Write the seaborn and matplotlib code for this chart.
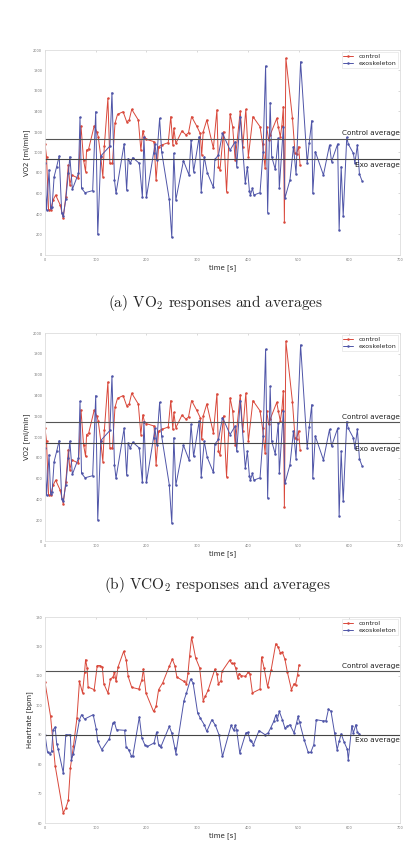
import pandas as pd
import matplotlib.pyplot as plt
import seaborn as sns
import numpy as np

# VO2 panel (the VCO2 panel in the source shows the same traces)
vo2_ctrl_t = [0, 3, 7, 11, 16, 21, 30, 36, 41, 46, 49, 53, 66, 71, 76, 80, 82, 86, 97, 102,
              105, 110, 114, 117, 124, 128, 133, 138, 143, 154, 161, 166, 171, 184, 189, 193, 196, 200, 215, 219,
              224, 230, 243, 248, 252, 254, 258, 270, 278, 283, 289, 299, 306, 309, 312, 319, 332, 339, 342, 345,
              352, 358, 365, 370, 375, 385, 390, 396, 401, 410, 424, 429, 434, 437, 441, 444, 457, 460, 464, 467,
              470, 472, 475, 488, 493, 496, 500, 503]
vo2_ctrl = [1083, 959, 439, 439, 537, 585, 488, 358, 569, 878, 683, 780, 748, 1259, 927, 813, 1024, 1034, 1259, 1203,
            1154, 959, 764, 1063, 1528, 894, 894, 1285, 1372, 1398, 1301, 1317, 1421, 1317, 1024, 1213, 1148, 1128, 1106, 732,
            1057, 1073, 1096, 1350, 1073, 1236, 1089, 1210, 1171, 1193, 1350, 1259, 1187, 976, 1203, 1317, 1041, 1415, 862, 829,
            1203, 618, 1376, 1252, 927, 1405, 1057, 1421, 959, 1350, 1252, 1083, 846, 1252, 1122, 1171, 1333, 1252, 1154, 1259,
            1447, 325, 1919, 1333, 992, 985, 1057, 878]

vo2_exo_t = [0, 3, 8, 11, 14, 18, 23, 28, 33, 36, 41, 46, 49, 54, 66, 69, 72, 79, 94, 100,
             104, 110, 128, 132, 137, 140, 156, 161, 164, 168, 173, 186, 192, 195, 200, 214, 217, 220, 226, 230,
             245, 250, 254, 258, 273, 284, 288, 293, 304, 308, 314, 320, 332, 335, 342, 350, 365, 375, 378, 385,
             395, 399, 403, 405, 409, 412, 424, 430, 435, 439, 444, 447, 454, 460, 462, 470, 473, 483, 490, 495,
             504, 517, 521, 526, 528, 533, 549, 561, 565, 577, 580, 584, 588, 595, 598, 608, 611, 616, 620, 625]
vo2_exo = [894, 439, 829, 455, 472, 764, 862, 966, 407, 380, 543, 797, 959, 641, 797, 1343, 650, 608, 628, 1398,
           202, 966, 1063, 1584, 732, 602, 1083, 634, 940, 894, 950, 894, 563, 1148, 563, 992, 1083, 927, 1333, 1008,
           543, 172, 992, 537, 920, 780, 1122, 813, 1154, 618, 959, 803, 660, 933, 976, 1187, 1024, 1106, 862, 1350,
           699, 862, 628, 585, 650, 585, 608, 1008, 1844, 413, 1486, 959, 836, 1138, 650, 1252, 553, 732, 1057, 790,
           1886, 894, 1096, 1311, 602, 1008, 780, 1073, 911, 1083, 244, 862, 380, 1148, 1083, 992, 894, 1073, 790, 725]
vo2_ctrl_avg = 1135
vo2_exo_avg = 934
vco2_ctrl_avg = 1143
vco2_exo_avg = 940

# Heart rate panel
hr_ctrl_t = [0, 11, 20, 36, 41, 46, 50, 56, 63, 68, 74, 78, 80, 83, 85, 97, 103, 108, 113, 116,
             124, 129, 134, 137, 140, 144, 155, 160, 164, 171, 185, 191, 194, 199, 214, 219, 224, 232, 245, 251,
             256, 260, 274, 279, 282, 285, 289, 297, 305, 312, 316, 322, 335, 339, 342, 347, 349, 364, 368, 372,
             376, 380, 383, 387, 395, 401, 404, 409, 424, 427, 432, 439, 446, 455, 460, 464, 468, 473, 478, 486,
             491, 494, 498, 501]
hr_ctrl = [107.8, 96.2, 79.5, 63.4, 65.1, 67.7, 78.7, 86.0, 95.7, 108.1, 104.2, 111.2, 115.5, 112.7, 106.2, 105.3, 113.5, 113.5, 113.0, 107.3,
           104.2, 108.9, 109.6, 111.2, 108.1, 113.0, 118.3, 115.5, 109.8, 106.1, 105.5, 108.7, 112.3, 104.2, 97.9, 99.6, 105.3, 107.6, 113.2, 115.7,
           113.5, 109.6, 108.1, 107.3, 111.0, 116.6, 123.2, 116.1, 112.7, 101.6, 103.0, 105.3, 112.3, 110.7, 107.2, 108.4, 111.5, 115.3, 114.2, 114.2,
           112.7, 109.3, 110.8, 110.1, 109.8, 111.3, 110.6, 104.2, 105.5, 116.4, 112.7, 106.2, 112.1, 120.9, 119.7, 117.8, 118.0, 115.7, 111.2, 105.3,
           107.3, 107.0, 110.4, 113.8]

hr_exo_t = [0, 5, 10, 13, 16, 20, 23, 26, 36, 41, 50, 52, 56, 68, 72, 78, 95, 101, 104, 112,
            127, 134, 137, 141, 157, 160, 165, 170, 173, 186, 191, 197, 202, 215, 220, 224, 228, 245, 250, 256,
            258, 274, 279, 287, 292, 301, 306, 314, 319, 329, 336, 343, 350, 367, 372, 375, 378, 384, 396, 400,
            404, 407, 411, 422, 434, 440, 445, 451, 455, 458, 462, 468, 473, 478, 483, 491, 496, 499, 502, 511,
            519, 524, 530, 535, 548, 554, 559, 564, 571, 576, 580, 584, 590, 596, 598, 605, 608, 613, 616, 620]
hr_exo = [90.0, 84.0, 83.6, 84.3, 91.7, 92.6, 87.0, 85.1, 77.0, 90.0, 90.0, 81.5, 83.6, 95.1, 96.8, 95.3, 96.8, 91.9, 87.7, 84.9,
          88.7, 94.0, 94.2, 91.7, 91.5, 85.8, 84.9, 82.9, 82.6, 96.0, 88.9, 86.5, 86.0, 87.2, 90.9, 86.6, 85.7, 92.8, 90.6, 85.5,
          83.6, 101.6, 104.2, 108.9, 107.6, 97.4, 95.7, 93.4, 91.1, 95.1, 93.2, 90.0, 82.6, 93.2, 91.5, 93.2, 91.5, 83.8, 90.6, 90.8,
          88.3, 87.7, 86.6, 91.4, 90.0, 90.6, 92.3, 94.5, 96.6, 95.1, 97.9, 95.1, 92.3, 92.8, 93.4, 90.6, 94.0, 96.2, 94.2, 88.3,
          84.0, 84.0, 86.6, 95.1, 94.7, 94.7, 98.7, 97.9, 90.6, 84.9, 87.7, 90.3, 87.4, 85.1, 81.5, 93.1, 90.6, 93.4, 90.8, 90.3]
hr_ctrl_avg = 111.6
hr_exo_avg = 90.0

captions = [r"(a) VO$_2$ responses and averages", r"(b) VCO$_2$ responses and averages"]

sns.set_style('white')
plt.rcParams['font.family'] = ['DejaVu Sans']
plt.rcParams['mathtext.fontset'] = 'cm'

red = '#d9483b'
blue = '#4f55a8'

fig = plt.figure(figsize=(4.12, 8.63), dpi=100)
W, H = 412, 863


def make_axes(top, bottom):
    return fig.add_axes([45 / W, 1 - bottom / H, 355 / W, (bottom - top) / H])


def draw_panel(ax, ct, cv, et, ev, cavg, eavg, ylim, yticks, ylabel):
    sns.lineplot(x=ct, y=cv, ax=ax, color=red, marker='o', markersize=1.8, linewidth=0.7,
                 markeredgewidth=0, estimator=None, sort=False, label='control')
    sns.lineplot(x=et, y=ev, ax=ax, color=blue, marker='o', markersize=1.8, linewidth=0.7,
                 markeredgewidth=0, estimator=None, sort=False, label='exoskeleton')
    ax.axhline(cavg, color='#555555', lw=0.8)
    ax.axhline(eavg, color='#444444', lw=0.8)
    ax.set_xlim(0, 700)
    ax.set_ylim(*ylim)
    ax.set_xticks(np.arange(0, 701, 100))
    ax.set_yticks(yticks)
    ax.tick_params(labelsize=2.5, labelcolor='#777777', direction='in', length=1.5,
                   width=0.4, color='#bbbbbb', right=True, top=True, pad=2)
    for s in ax.spines.values():
        s.set_color('#dddddd')
        s.set_linewidth(0.6)
    ax.set_xlabel('time [s]', fontsize=5, labelpad=2)
    ax.set_ylabel(ylabel, fontsize=5, labelpad=2)
    span = ylim[1] - ylim[0]
    ax.text(699, cavg + span * 0.012, 'Control average', fontsize=5.2, ha='right', va='bottom', color='#222222')
    ax.text(699, eavg - span * 0.012, 'Exo average', fontsize=5.2, ha='right', va='top', color='#222222')
    leg = ax.legend(loc='upper right', fontsize=4.5, frameon=True, handlelength=1.6,
                    borderpad=0.3, labelspacing=0.2, borderaxespad=0.3, fancybox=False)
    leg.get_frame().set_edgecolor('#dddddd')
    leg.get_frame().set_linewidth(0.5)


ax1 = make_axes(50, 255)
draw_panel(ax1, vo2_ctrl_t, vo2_ctrl, vo2_exo_t, vo2_exo, vo2_ctrl_avg, vo2_exo_avg,
           (0, 2000), np.arange(0, 2001, 200), 'VO2 [ml/min]')
ax2 = make_axes(333, 541)
draw_panel(ax2, vo2_ctrl_t, vo2_ctrl, vo2_exo_t, vo2_exo, vco2_ctrl_avg, vco2_exo_avg,
           (0, 2000), np.arange(0, 2001, 200), 'VO2 [ml/min]')
ax3 = make_axes(617, 823)
draw_panel(ax3, hr_ctrl_t, hr_ctrl, hr_exo_t, hr_exo, hr_ctrl_avg, hr_exo_avg,
           (60, 130), np.arange(60, 131, 10), 'Heartrate [bpm]')

fig.text(215 / W, 1 - 303 / H, captions[0], fontsize=11, family=['cmr10', 'DejaVu Serif'],
         ha='center', va='center')
fig.text(217 / W, 1 - 585 / H, captions[1], fontsize=11, family=['cmr10', 'DejaVu Serif'],
         ha='center', va='center')

fig.savefig('out.png', dpi=100, facecolor='white')
